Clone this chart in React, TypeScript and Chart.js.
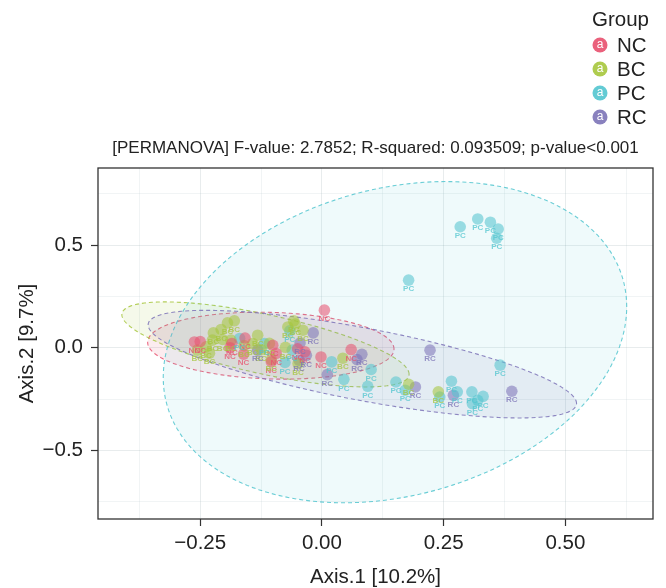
import React, { useEffect, useRef } from 'react';
import { Chart, registerables } from 'chart.js';

Chart.register(...registerables);

// ---------- data ----------
const groupNames = ['NC', 'BC', 'PC', 'RC'];
const groupColors = ['#E8506E', '#A6C63C', '#52C5CF', '#7C73B7'];

const ncX = [0.005, -0.262, -0.250, -0.185, -0.189, -0.158, -0.161, -0.101, -0.094, -0.104, -0.035, -0.002, 0.060, -0.050];
const ncY = [0.183, 0.028, 0.030, 0.020, 0.000, 0.047, -0.031, 0.012, -0.028, -0.068, -0.020, -0.045, -0.009, -0.005];

const bcX = [-0.194, -0.180, -0.207, -0.223, -0.225, -0.204, -0.238, -0.256, -0.231, -0.187, -0.132, -0.142, -0.104, -0.070, -0.058, -0.055, -0.039, -0.049, -0.075, -0.108, 0.043, 0.178, 0.239, -0.160, -0.125];
const bcY = [0.121, 0.131, 0.089, 0.072, 0.037, 0.040, 0.004, -0.012, -0.027, 0.037, 0.061, 0.020, -0.058, 0.101, 0.131, 0.115, 0.085, -0.077, 0.002, 0.021, -0.051, -0.178, -0.215, 0.010, -0.010];

const pcX = [0.284, 0.320, 0.346, 0.362, 0.359, 0.178, 0.366, 0.152, 0.171, 0.266, 0.278, 0.242, 0.308, 0.331, 0.320, 0.309, 0.094, 0.101, 0.045, 0.020, -0.061, -0.076, -0.066, -0.118, -0.169];
const pcY = [0.589, 0.627, 0.611, 0.578, 0.533, 0.329, -0.085, -0.167, -0.207, -0.163, -0.215, -0.240, -0.215, -0.237, -0.256, -0.272, -0.188, -0.106, -0.154, -0.069, -0.012, -0.072, 0.082, 0.020, 0.045];

const rcX = [0.222, 0.192, 0.270, 0.390, 0.082, 0.072, 0.011, -0.018, -0.045, -0.047, -0.032, -0.132];
const rcY = [-0.012, -0.191, -0.232, -0.212, -0.032, -0.058, -0.131, 0.072, 0.023, -0.061, -0.037, -0.012];

// confidence ellipses: centre, x/y spread, correlation (NC, BC, PC, RC)
const ellipseCX = [-0.105, -0.116, 0.150, 0.083];
const ellipseCY = [0.010, 0.016, 0.027, -0.080];
const ellipseSX = [0.253, 0.295, 0.476, 0.440];
const ellipseSY = [0.163, 0.207, 0.782, 0.262];
const ellipseR = [-0.10, -0.70, 0.22, -0.73];

const xMajorTicks = [-0.25, 0, 0.25, 0.5];
const xMinorTicks = [-0.375, -0.125, 0.125, 0.375, 0.625];
const yMajorTicks = [-0.5, 0, 0.5];
const yMinorTicks = [-0.75, -0.25, 0.25, 0.75];

const titleText = '[PERMANOVA] F-value: 2.7852; R-squared: 0.093509; p-value<0.001';
const xTitle = 'Axis.1 [10.2%]';
const yTitle = 'Axis.2 [9.7%]';
const legendTitle = 'Group';

const FONT = '"Liberation Sans", Arial, Helvetica, sans-serif';

function rgba(hex: string, a: number) {
  const n = parseInt(hex.slice(1), 16);
  return `rgba(${(n >> 16) & 255},${(n >> 8) & 255},${n & 255},${a})`;
}
function isIn(arr: number[], v: number) {
  return arr.some((t) => Math.abs(t - v) < 1e-9);
}
function fmt(v: number, d: number) {
  const s = Math.abs(v).toFixed(d);
  return v < -1e-9 ? '\u2212' + s : s;
}

const seriesX = [ncX, bcX, pcX, rcX];
const seriesY = [ncY, bcY, pcY, rcY];

export default function App() {
  const ref = useRef<HTMLCanvasElement | null>(null);

  useEffect(() => {
    document.body.style.margin = '0';
    const canvas = ref.current;
    if (!canvas) return;

    const ellipsePlugin = {
      id: 'ellipses',
      beforeDatasetsDraw(chart: any) {
        const { ctx, chartArea } = chart;
        const xs = chart.scales.x;
        const ys = chart.scales.y;
        ctx.save();
        ctx.beginPath();
        ctx.rect(chartArea.left, chartArea.top, chartArea.right - chartArea.left, chartArea.bottom - chartArea.top);
        ctx.clip();
        for (let g = 0; g < groupNames.length; g++) {
          const cx = ellipseCX[g], cy = ellipseCY[g], sx = ellipseSX[g], sy = ellipseSY[g], r = ellipseR[g];
          const q = Math.sqrt(1 - r * r);
          ctx.beginPath();
          const N = 200;
          for (let k = 0; k <= N; k++) {
            const t = (2 * Math.PI * k) / N;
            const px = xs.getPixelForValue(cx + sx * Math.cos(t));
            const py = ys.getPixelForValue(cy + sy * (r * Math.cos(t) + q * Math.sin(t)));
            if (k === 0) ctx.moveTo(px, py);
            else ctx.lineTo(px, py);
          }
          ctx.closePath();
          ctx.fillStyle = rgba(groupColors[g], g === 2 ? 0.09 : 0.11);
          ctx.fill();
          ctx.setLineDash([4, 3]);
          ctx.lineWidth = 1.1;
          ctx.strokeStyle = rgba(groupColors[g], 0.85);
          ctx.stroke();
        }
        ctx.restore();
      },
      afterDatasetsDraw(chart: any) {
        const { ctx, chartArea } = chart;
        ctx.save();
        ctx.font = `bold 8px ${FONT}`;
        ctx.textAlign = 'center';
        ctx.textBaseline = 'middle';
        chart.data.datasets.forEach((ds: any, i: number) => {
          const meta = chart.getDatasetMeta(i);
          ctx.fillStyle = rgba(groupColors[i], 0.75);
          meta.data.forEach((pt: any) => {
            ctx.fillText(ds.label, pt.x, pt.y + 9);
          });
        });
        // panel border
        ctx.setLineDash([]);
        ctx.lineWidth = 1.3;
        ctx.strokeStyle = '#333333';
        ctx.strokeRect(chartArea.left, chartArea.top, chartArea.right - chartArea.left, chartArea.bottom - chartArea.top);
        ctx.restore();
      },
      afterDraw(chart: any) {
        const { ctx, chartArea } = chart;
        const midX = (chartArea.left + chartArea.right) / 2;
        const midY = (chartArea.top + chartArea.bottom) / 2;
        ctx.save();
        ctx.fillStyle = '#222222';
        ctx.textBaseline = 'middle';
        // title
        ctx.textAlign = 'center';
        ctx.font = `17px ${FONT}`;
        ctx.fillText(titleText, midX, 148);
        // axis titles
        ctx.font = `20.5px ${FONT}`;
        ctx.fillText(xTitle, midX, 577);
        ctx.save();
        ctx.translate(27, midY);
        ctx.rotate(-Math.PI / 2);
        ctx.fillText(yTitle, 0, 0);
        ctx.restore();
        // legend
        ctx.textAlign = 'left';
        ctx.font = `20.5px ${FONT}`;
        ctx.fillText(legendTitle, 592, 20);
        for (let g = 0; g < groupNames.length; g++) {
          const y = 45 + 24 * g;
          ctx.beginPath();
          ctx.arc(600, y, 7.5, 0, Math.PI * 2);
          ctx.fillStyle = rgba(groupColors[g], 0.9);
          ctx.fill();
          ctx.fillStyle = '#ffffff';
          ctx.textAlign = 'center';
          ctx.font = `12px ${FONT}`;
          ctx.fillText('a', 600, y);
          ctx.textAlign = 'left';
          ctx.fillStyle = '#222222';
          ctx.font = `20.5px ${FONT}`;
          ctx.fillText(groupNames[g], 617, y + 1);
        }
        ctx.restore();
      },
    };

    const datasets = groupNames.map((name, g) => ({
      label: name,
      data: seriesX[g].map((x, i) => ({ x, y: seriesY[g][i] })),
      backgroundColor: rgba(groupColors[g], 0.56),
      borderWidth: 0,
      pointRadius: 5.8,
      pointHoverRadius: 5.8,
    }));

    const chart = new Chart(canvas, {
      type: 'scatter',
      data: { datasets },
      plugins: [ellipsePlugin],
      options: {
        animation: false,
        responsive: false,
        events: [],
        layout: { padding: { top: 168, right: 13, left: 0, bottom: 0 } },
        plugins: {
          legend: { display: false },
          title: { display: false },
          tooltip: { enabled: false },
        },
        scales: {
          x: {
            type: 'linear',
            min: -0.46,
            max: 0.68,
            afterBuildTicks: (scale: any) => {
              scale.ticks = [...xMinorTicks, ...xMajorTicks].sort((a, b) => a - b).map((v) => ({ value: v }));
            },
            afterFit: (scale: any) => {
              scale.height = 69;
            },
            border: { display: false },
            grid: {
              color: (c: any) => (isIn(xMajorTicks, c.tick?.value) ? 'rgba(150,170,175,0.22)' : 'rgba(150,170,175,0.13)'),
              tickColor: (c: any) => (isIn(xMajorTicks, c.tick?.value) ? '#333333' : 'rgba(0,0,0,0)'),
              tickLength: 7,
              tickWidth: 1.2,
              lineWidth: 1,
            },
            ticks: {
              autoSkip: false,
              maxRotation: 0,
              padding: 5,
              color: '#222222',
              font: { size: 20.5, family: FONT },
              callback: (v: any) => (isIn(xMajorTicks, Number(v)) ? fmt(Number(v), 2) : ''),
            },
          },
          y: {
            type: 'linear',
            min: -0.834,
            max: 0.875,
            afterBuildTicks: (scale: any) => {
              scale.ticks = [...yMinorTicks, ...yMajorTicks].sort((a, b) => a - b).map((v) => ({ value: v }));
            },
            afterFit: (scale: any) => {
              scale.width = 98;
            },
            border: { display: false },
            grid: {
              color: (c: any) => (isIn(yMajorTicks, c.tick?.value) ? 'rgba(150,170,175,0.22)' : 'rgba(150,170,175,0.13)'),
              tickColor: (c: any) => (isIn(yMajorTicks, c.tick?.value) ? '#333333' : 'rgba(0,0,0,0)'),
              tickLength: 7,
              tickWidth: 1.2,
              lineWidth: 1,
            },
            ticks: {
              autoSkip: false,
              padding: 8,
              color: '#222222',
              font: { size: 20.5, family: FONT },
              callback: (v: any) => (isIn(yMajorTicks, Number(v)) ? fmt(Number(v), 1) : ''),
            },
          },
        },
      },
    });

    return () => chart.destroy();
  }, []);

  return (
    <div style={{ width: 666, height: 588 }}>
      <canvas ref={ref} width={666} height={588} style={{ width: 666, height: 588, display: 'block' }} />
    </div>
  );
}
